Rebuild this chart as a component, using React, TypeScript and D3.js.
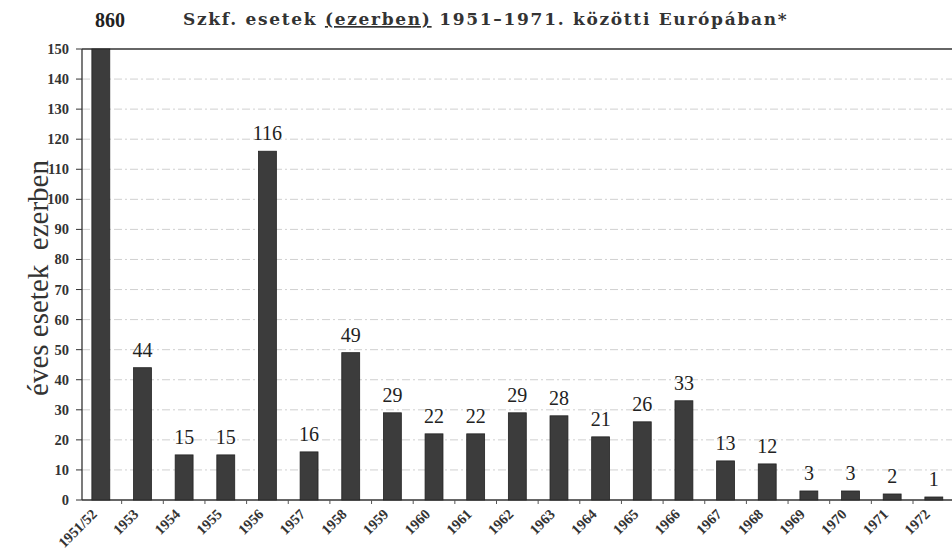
import React from "react";
import * as d3 from "d3";

const categories = ["1951/52","1953","1954","1955","1956","1957","1958","1959","1960","1961","1962","1963","1964","1965","1966","1967","1968","1969","1970","1971","1972"];
const values = [860,44,15,15,116,16,49,29,22,22,29,28,21,26,33,13,12,3,3,2,1];
const yTicks = [0,10,20,30,40,50,60,70,80,90,100,110,120,130,140,150];
const titleA = "Szkf. esetek ";
const titleB = "(ezerben)";
const titleC = " 1951–1971. közötti Európában*";
const yTitle = "éves esetek  ezerben";

const W = 952, H = 559;
const x0 = 80, bandW = 41.65;
const yMax = 150;
const serif = "'Liberation Serif', 'Times New Roman', Times, serif";
const slab = "'DejaVu Serif', serif";

export default function App() {
  const x = d3.scaleBand<string>().domain(categories).range([x0, x0 + bandW * categories.length]).paddingInner(0.57).paddingOuter(0.285);
  const y = d3.scaleLinear().domain([0, yMax]).range([500, 49]);
  const axisX = 82;
  return (
    <svg width={W} height={H} style={{ position: "absolute", left: 0, top: 0, background: "#fff" }}>
      <text x={110} y={27} style={{ fontFamily: serif, fontWeight: 700, fontSize: 20 }} textAnchor="middle" fill="#222">{values[0]}</text>
      <text x={183} y={25} style={{ fontFamily: slab, fontWeight: 700, fontSize: 17, letterSpacing: 1.7, whiteSpace: "pre" }} fill="#333">
        <tspan>{titleA}</tspan>
        <tspan style={{ textDecoration: "underline" }}>{titleB}</tspan>
        <tspan>{titleC}</tspan>
      </text>
      {yTicks.filter(t => t > 0 && t < yMax).map(t => (
        <line key={"g" + t} x1={axisX} x2={W} y1={y(t)} y2={y(t)} stroke="#c4c4c4" strokeWidth={0.8} strokeDasharray="8,3,2,3" />
      ))}
      <line x1={axisX} x2={W} y1={y(yMax)} y2={y(yMax)} stroke="#333" strokeWidth={1.3} />
      <line x1={axisX} x2={axisX} y1={y(yMax)} y2={y(0)} stroke="#333" strokeWidth={1.3} />
      <line x1={axisX} x2={W} y1={y(0)} y2={y(0)} stroke="#333" strokeWidth={1.3} />
      {yTicks.map(t => (
        <g key={"t" + t}>
          <line x1={axisX - 6} x2={axisX} y1={y(t)} y2={y(t)} stroke="#333" />
          <text x={69} y={y(t) + 5} textAnchor="end" style={{ fontFamily: serif, fontWeight: 700, fontSize: 14.5 }} fill="#333">{t}</text>
        </g>
      ))}
      {categories.map((c, i) => (
        <line key={"xt" + i} x1={x0 + bandW * (i + 1)} x2={x0 + bandW * (i + 1)} y1={y(0)} y2={y(0) + 4} stroke="#555" />
      ))}
      {categories.map((c, i) => {
        const v = Math.min(values[i], yMax);
        const bx = x(c)!;
        return (
          <rect key={"b" + i} x={bx} y={y(v)} width={x.bandwidth()} height={y(0) - y(v)} fill="#3c3c3c" stroke="#222" strokeWidth={0.8} />
        );
      })}
      {categories.map((c, i) => {
        if (values[i] > yMax) return null;
        const cx = x(c)! + x.bandwidth() / 2;
        return (
          <text key={"l" + i} x={cx} y={y(values[i]) - 11} textAnchor="middle" style={{ fontFamily: serif, fontSize: 20 }} fill="#222">{values[i]}</text>
        );
      })}
      {categories.map((c, i) => {
        const cx = x(c)! + x.bandwidth() / 2;
        return (
          <text key={"xl" + i} transform={`translate(${cx - 3},${515}) rotate(-45)`} textAnchor="end" style={{ fontFamily: serif, fontWeight: 700, fontSize: 14.5 }} fill="#333">{c}</text>
        );
      })}
      <text transform={`translate(48,278) rotate(-90)`} textAnchor="middle" style={{ fontFamily: serif, fontSize: 29, whiteSpace: "pre" }} fill="#333">{yTitle}</text>
    </svg>
  );
}
